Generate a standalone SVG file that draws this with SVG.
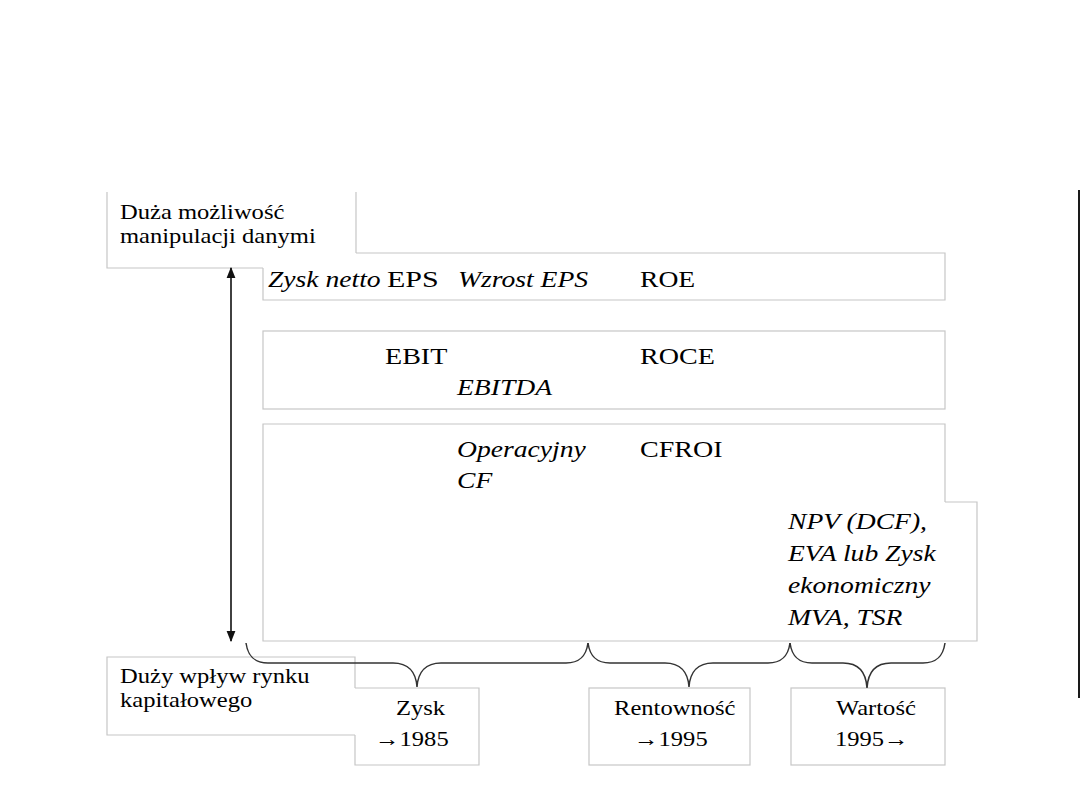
<svg xmlns="http://www.w3.org/2000/svg" width="1080" height="810" viewBox="0 0 1080 810">
<style>
  .box { fill: none; stroke: #c6c6c6; stroke-width: 1.2; }
  text { font-family: 'Liberation Serif', 'Times New Roman', serif; fill: #000; }
  .lbl { font-size: 21px; }
  .row { font-size: 24px; }
  .it { font-style: italic; }
  .brace { fill: none; stroke: #333; stroke-width: 1.5; }
  .arrow { stroke: #111; stroke-width: 1.6; }
</style>
<defs>
  <marker id="ah" viewBox="0 0 10 10" refX="9" refY="5" markerWidth="11" markerHeight="11" markerUnits="userSpaceOnUse" orient="auto-start-reverse">
    <path d="M0,1 L10,5 L0,9 Z" fill="#111"/>
  </marker>
</defs>
<rect width="1080" height="810" fill="#fff"/>

<g id="node-manipulacja">
  <path class="box" d="M107,192 V268 H263 M356,253 V192"/>
  <text class="lbl" transform="translate(120,219) scale(1.17,1)">Duża możliwość</text>
  <text class="lbl" transform="translate(120,243) scale(1.17,1)">manipulacji danymi</text>
</g>

<g id="node-row1">
  <path class="box" d="M263,268 V300 H945 V253 H356"/>
  <text class="row it" transform="translate(268,287) scale(1.15,1)">Zysk netto</text>
  <text class="row" transform="translate(387,287) scale(1.25,1)">EPS</text>
  <text class="row it" transform="translate(458,287) scale(1.15,1)">Wzrost EPS</text>
  <text class="row" transform="translate(640,287) scale(1.15,1)">ROE</text>
</g>

<g id="node-row2">
  <rect class="box" x="263" y="331" width="682" height="78"/>
  <text class="row" transform="translate(385,364) scale(1.17,1)">EBIT</text>
  <text class="row" transform="translate(640,364) scale(1.17,1)">ROCE</text>
  <text class="row it" transform="translate(457,395) scale(1.15,1)">EBITDA</text>
</g>

<g id="node-row3">
  <path class="box" d="M945,502 V424 H263 V641 H780"/>
  <text class="row it" transform="translate(457,457) scale(1.15,1)">Operacyjny</text>
  <text class="row" transform="translate(640,457) scale(1.17,1)">CFROI</text>
  <text class="row it" transform="translate(457,488) scale(1.15,1)">CF</text>
</g>

<g id="node-wartosc-miary">
  <path class="box" d="M780,641 H977 V502 H945"/>
  <text class="row it" transform="translate(788,529) scale(1.15,1)">NPV (DCF),</text>
  <text class="row it" transform="translate(788,561) scale(1.15,1)">EVA lub Zysk</text>
  <text class="row it" transform="translate(788,593) scale(1.15,1)">ekonomiczny</text>
  <text class="row it" transform="translate(788,625) scale(1.15,1)">MVA, TSR</text>
</g>

<g id="node-wplyw-rynku">
  <path class="box" d="M355,688 V657 H107 V735 H355"/>
  <text class="lbl" transform="translate(120,683) scale(1.17,1)">Duży wpływ rynku</text>
  <text class="lbl" transform="translate(120,707) scale(1.17,1)">kapitałowego</text>
</g>

<g id="node-zysk">
  <path class="box" d="M355,735 V765 H479 V688 H355"/>
  <text class="lbl" transform="translate(396,715) scale(1.17,1)">Zysk</text>
  <text class="lbl" transform="translate(375,746) scale(1.17,1)">→1985</text>
</g>

<g id="node-rentownosc">
  <rect class="box" x="589" y="688" width="161" height="77"/>
  <text class="lbl" transform="translate(614,715) scale(1.17,1)">Rentowność</text>
  <text class="lbl" transform="translate(634,746) scale(1.17,1)">→1995</text>
</g>

<g id="node-wartosc">
  <rect class="box" x="791" y="688" width="154" height="77"/>
  <text class="lbl" transform="translate(836,715) scale(1.17,1)">Wartość</text>
  <text class="lbl" transform="translate(835,746) scale(1.17,1)">1995→</text>
</g>

<g id="connectors">
  <line class="arrow" x1="231" y1="641" x2="231" y2="268" marker-start="url(#ah)" marker-end="url(#ah)"/>
  <path class="brace" d="M246,643 C248,657 255,663 268,663 H393 C408,663 416,672 417,687 C418,672 426,663 441,663 H566 C579,663 586,657 588,643"/>
  <path class="brace" d="M588,643 C590,657 597,663 610,663 H665 C680,663 688,672 689,687 C690,672 698,663 713,663 H768 C781,663 788,657 790,643"/>
  <path class="brace" d="M790,643 C792,657 799,663 812,663 H843 C858,663 866,672 867,688 C868,672 876,663 891,663 H923 C936,663 943,657 945,643"/>
</g>

<line x1="1079" y1="190" x2="1079" y2="698" stroke="#1a1a1a" stroke-width="2"/>
</svg>
